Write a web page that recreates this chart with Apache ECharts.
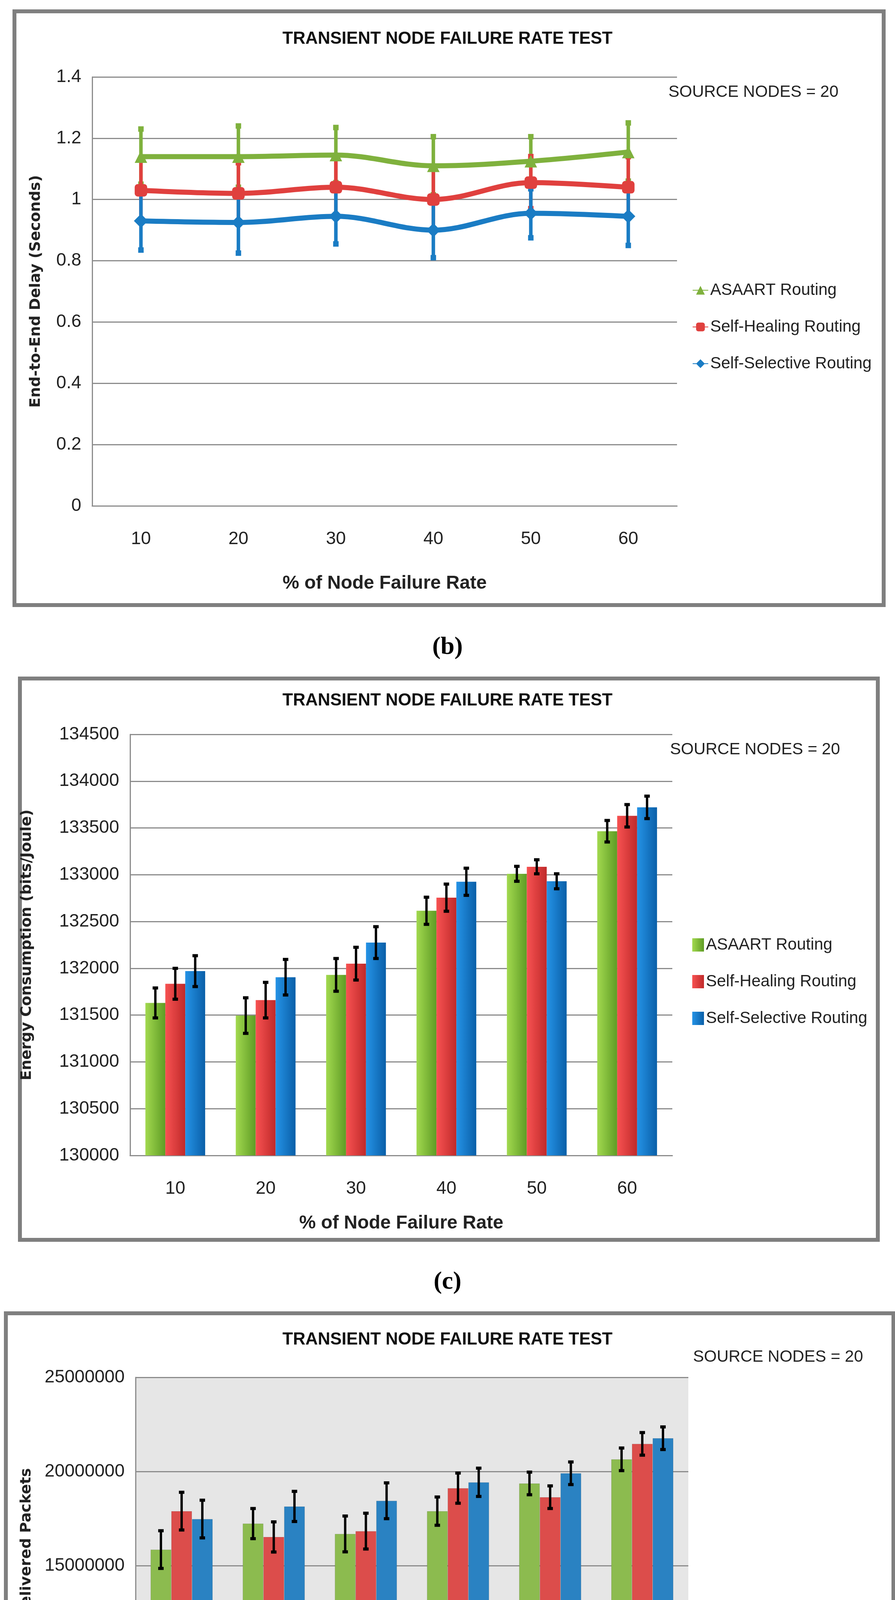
<!DOCTYPE html>
<html><head><meta charset="utf-8">
<script src="https://cdn.jsdelivr.net/npm/echarts@6/dist/echarts.min.js"></script>
<style>html,body{margin:0;padding:0;background:#fff}#c{width:2291px;height:5139px}</style>
</head><body><div id="c"></div>
<script>
const categories = ['10','20','30','40','50','60'];
const names = ['ASAART Routing','Self-Healing Routing','Self-Selective Routing'];
// Panel (b): delay
const delayASAART = [1.14,1.14,1.145,1.11,1.125,1.155];
const delayHealing = [1.03,1.02,1.04,1.0,1.055,1.04];
const delaySelective = [0.93,0.925,0.945,0.90,0.955,0.945];
const delayErrASAART = [0.09,0.10,0.09,0.095,0.08,0.095];
const delayErrHealing = [0.10,0.10,0.10,0.10,0.085,0.10];
const delayErrSelective = [0.095,0.10,0.09,0.09,0.08,0.095];
// Panel (c): energy
const energyASAART = [131630,131495,131930,132615,133010,133465];
const energyHealing = [131835,131660,132050,132755,133085,133630];
const energySelective = [131970,131905,132275,132925,132930,133720];
const energyErrASAART = [160,190,175,145,80,115];
const energyErrHealing = [165,190,175,145,75,120];
const energyErrSelective = [165,190,170,145,80,120];
// Panel (d): packets
const pktASAART = [15860000,17240000,16690000,17900000,19370000,20650000];
const pktHealing = [17900000,16530000,16840000,19120000,18640000,21470000];
const pktSelective = [17480000,18150000,18450000,19430000,19910000,21770000];
const pktErrASAART = [1000000,800000,950000,750000,600000,600000];
const pktErrHealing = [1000000,800000,950000,800000,600000,600000];
const pktErrSelective = [1000000,800000,950000,750000,600000,600000];

const NF = '"Liberation Sans",Arial,sans-serif';
const chart = echarts.init(document.getElementById('c'));
const lineCols = ['#7fb13d','#e0403e','#1a7cc4'];
const gradCols = [['#a2d94f','#5f9c25'],['#f75252','#c02a2a'],['#2593e6','#0a5fa8']];
const flatCols = ['#8cbb4f','#dc4d4b','#2a82c2'];

function errData(vals, errs){ return vals.map((v,i)=>[i, v-errs[i], v+errs[i]]); }

function errSeries(gi, vals, errs, idx, barW, color, lw, capW, capStyle){
  return {type:'custom', xAxisIndex:gi, yAxisIndex:gi, z:10, silent:true,
    data: errData(vals, errs),
    renderItem:function(params, api){
      const x = api.value(0);
      const lo = api.coord([x, api.value(1)]);
      const hi = api.coord([x, api.value(2)]);
      const off = barW ? (idx-1)*barW : 0;
      const cx = lo[0] + off;
      const ch = [{type:'line', shape:{x1:cx,y1:lo[1],x2:cx,y2:hi[1]}, style:{stroke:color, lineWidth:lw}}];
      if (capStyle==='square') {
        ch.push({type:'rect', shape:{x:cx-capW/2,y:hi[1]-capW/2,width:capW,height:capW}, style:{fill:color}});
        ch.push({type:'rect', shape:{x:cx-capW/2,y:lo[1]-capW/2,width:capW,height:capW}, style:{fill:color}});
      } else {
        ch.push({type:'line', shape:{x1:cx-capW/2,y1:hi[1],x2:cx+capW/2,y2:hi[1]}, style:{stroke:color, lineWidth:lw+2}});
        ch.push({type:'line', shape:{x1:cx-capW/2,y1:lo[1],x2:cx+capW/2,y2:lo[1]}, style:{stroke:color, lineWidth:lw+2}});
      }
      return {type:'group', children:ch};
    }};
}

const axisLabel = {fontFamily:NF, fontSize:46, color:'#222'};
function xAx(gi, top){ return {type:'category', gridIndex:gi, data:categories, axisTick:{show:false},
  axisLine:{lineStyle:{color:'#8c8c8c', width:3}}, axisLabel:Object.assign({margin:62},axisLabel),
  name:'% of Node Failure Rate', nameLocation:'middle', nameGap:top,
  nameTextStyle:{fontFamily:NF, fontSize:48, fontWeight:'bold', color:'#222'}}; }
function yAx(gi, min, max, iv, name, gap, fmt){ return {type:'value', gridIndex:gi, min:min, max:max, interval:iv,
  axisLine:{show:true, lineStyle:{color:'#8c8c8c', width:3}}, axisTick:{show:false},
  splitLine:{lineStyle:{color:'#8c8c8c', width:3}},
  axisLabel:Object.assign({margin:28, formatter:fmt},axisLabel),
  name:name, nameLocation:'middle', nameGap:gap,
  nameTextStyle:{fontFamily:'"DejaVu Sans",Verdana,sans-serif', fontSize:38, fontWeight:'bold', color:'#222'}}; }

const series = [];
const dVals=[delayASAART,delayHealing,delaySelective], dErr=[delayErrASAART,delayErrHealing,delayErrSelective];
const syms=['triangle','roundRect','diamond'];
for(let i=0;i<3;i++) series.push(errSeries(0, dVals[i], dErr[i], i, 0, lineCols[i], 9, 14, 'square'));
for(let i=0;i<3;i++){
  series.push({type:'line', name:names[i], xAxisIndex:0, yAxisIndex:0, data:dVals[i], smooth:0.35, z:20,
    symbol:syms[i], symbolSize:i===2?36:32, lineStyle:{width:13, color:lineCols[i]}, itemStyle:{color:lineCols[i]}});
}
const eVals=[energyASAART,energyHealing,energySelective], eErr=[energyErrASAART,energyErrHealing,energyErrSelective];
const bw2=51;
for(let i=0;i<3;i++){
  series.push({type:'bar', name:names[i]+' ', xAxisIndex:1, yAxisIndex:1, data:eVals[i], barWidth:bw2, barGap:'0%',
    itemStyle:{color:new echarts.graphic.LinearGradient(0,0,1,0,[{offset:0,color:gradCols[i][0]},{offset:1,color:gradCols[i][1]}])}});
}
for(let i=0;i<3;i++) series.push(errSeries(1, eVals[i], eErr[i], i, bw2, '#000', 6, 14, 'line'));
const pVals=[pktASAART,pktHealing,pktSelective], pErr=[pktErrASAART,pktErrHealing,pktErrSelective];
const bw3=53;
for(let i=0;i<3;i++){
  series.push({type:'bar', name:names[i]+'  ', xAxisIndex:2, yAxisIndex:2, data:pVals[i], barWidth:bw3, barGap:'0%',
    itemStyle:{color:flatCols[i], borderColor:'rgba(0,0,0,0.15)', borderWidth:1}});
}
for(let i=0;i<3;i++) series.push(errSeries(2, pVals[i], pErr[i], i, bw3, '#000', 6, 14, 'line'));

const legText = {fontFamily:NF, fontSize:42, color:'#222'};
function legend(left, top, suffix, icon){
  return {left:left, top:top, orient:'vertical', itemGap:52, itemWidth:icon?30:40, itemHeight:icon?34:28,
    padding:0, icon:icon, data:names.map(n=>n+suffix), formatter:n=>n.trim(), textStyle:legText, selectedMode:false};
}

function titleG(y){ return {type:'text', left:'center', top:y, style:{text:'TRANSIENT NODE FAILURE RATE TEST', font:'bold 44px '+NF, fill:'#111'}}; }
function srcG(x,y){ return {type:'text', left:x, top:y, style:{text:'SOURCE NODES = 20', font:'42px '+NF, fill:'#222'}}; }
function capG(t,y){ return {type:'text', left:'center', top:y, style:{text:t, font:'bold 64px "Liberation Serif","DejaVu Serif",serif', fill:'#000'}}; }
function boxG(x,y,w,h){ return {type:'rect', shape:{x:x,y:y,width:w,height:h}, style:{fill:null, stroke:'#7f7f7f', lineWidth:10}, z:-1}; }
const plain = v=>String(v);

chart.setOption({
  animation:false,
  backgroundColor:'#fff',
  grid:[
    {left:236, top:197, width:1497, height:1098},
    {left:333, top:1880, width:1388, height:1078},
    {left:347, top:3526, width:1415, height:1206, show:true, backgroundColor:'#e6e6e6', borderWidth:0}
  ],
  xAxis:[xAx(0,175), xAx(1,150), xAx(2,175)],
  yAxis:[
    yAx(0,0,1.4,0.2,'End-to-End Delay (Seconds)',125, v=>String(+v.toFixed(1))),
    yAx(1,130000,134500,500,'Energy Consumption (bits/Joule)',245, plain),
    yAx(2,0,25000000,5000000,'Total MAC Layer Delivered Packets',260, plain)
  ],
  legend:[ legend(1772,722,''), legend(1772,2398,' ','rect'), legend(1812,4110,'  ','rect') ],
  series:series,
  graphic:[
    boxG(37,29,2225,1520), boxG(51,1737,2196,1437), boxG(15,3362,2272,1623),
    titleG(78), titleG(1772), titleG(3408),
    srcG(1711,215), srcG(1715,1898), srcG(1774,3453),
    capG('(b)',1625), capG('(c)',3250), capG('(d)',5055)
  ]
});
</script></body></html>
